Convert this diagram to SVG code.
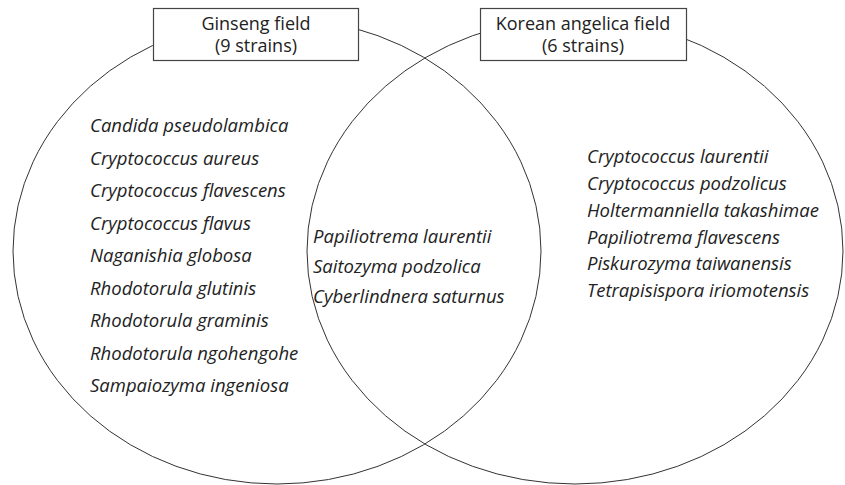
<svg xmlns="http://www.w3.org/2000/svg" width="845" height="485" viewBox="0 0 845 485">
<style>
.ring{fill:none;stroke:#333;stroke-width:1}
.box{fill:#fff;stroke:#444;stroke-width:1.2}
.hd{font-family:"Open Sans","Noto Sans",sans-serif;font-size:18px;fill:#222;text-anchor:middle}
.sp{font-family:"Open Sans","Noto Sans",sans-serif;font-size:18.5px;font-style:italic;fill:#222}
</style>
<rect width="845" height="485" fill="#fff"/>
<g id="connectors"></g>
<g id="set-ginseng">
<ellipse class="ring" cx="277" cy="251" rx="264" ry="233"/>
</g>
<g id="set-angelica">
<ellipse class="ring" cx="575" cy="251" rx="268" ry="233"/>
</g>
<g id="label-ginseng">
<rect class="box" x="153.5" y="8.5" width="205" height="52"/>
<text class="hd" x="256" y="30">Ginseng field</text>
<text class="hd" x="256" y="52">(9 strains)</text>
</g>
<g id="label-angelica">
<rect class="box" x="480.5" y="8.5" width="206" height="52"/>
<text class="hd" x="583" y="30">Korean angelica field</text>
<text class="hd" x="583" y="52">(6 strains)</text>
</g>
<g id="ginseng-only">
<text class="sp" x="90" y="132">Candida pseudolambica</text>
<text class="sp" x="90" y="165">Cryptococcus aureus</text>
<text class="sp" x="90" y="197">Cryptococcus flavescens</text>
<text class="sp" x="90" y="230">Cryptococcus flavus</text>
<text class="sp" x="90" y="262">Naganishia globosa</text>
<text class="sp" x="90" y="295">Rhodotorula glutinis</text>
<text class="sp" x="90" y="327">Rhodotorula graminis</text>
<text class="sp" x="90" y="360">Rhodotorula ngohengohe</text>
<text class="sp" x="90" y="392">Sampaiozyma ingeniosa</text>
</g>
<g id="shared">
<text class="sp" x="313" y="243">Papiliotrema laurentii</text>
<text class="sp" x="313" y="273">Saitozyma podzolica</text>
<text class="sp" x="313" y="303">Cyberlindnera saturnus</text>
</g>
<g id="angelica-only">
<text class="sp" x="587" y="163">Cryptococcus laurentii</text>
<text class="sp" x="587" y="190">Cryptococcus podzolicus</text>
<text class="sp" x="587" y="217">Holtermanniella takashimae</text>
<text class="sp" x="587" y="244">Papiliotrema flavescens</text>
<text class="sp" x="587" y="270">Piskurozyma taiwanensis</text>
<text class="sp" x="587" y="297">Tetrapisispora iriomotensis</text>
</g>
</svg>
